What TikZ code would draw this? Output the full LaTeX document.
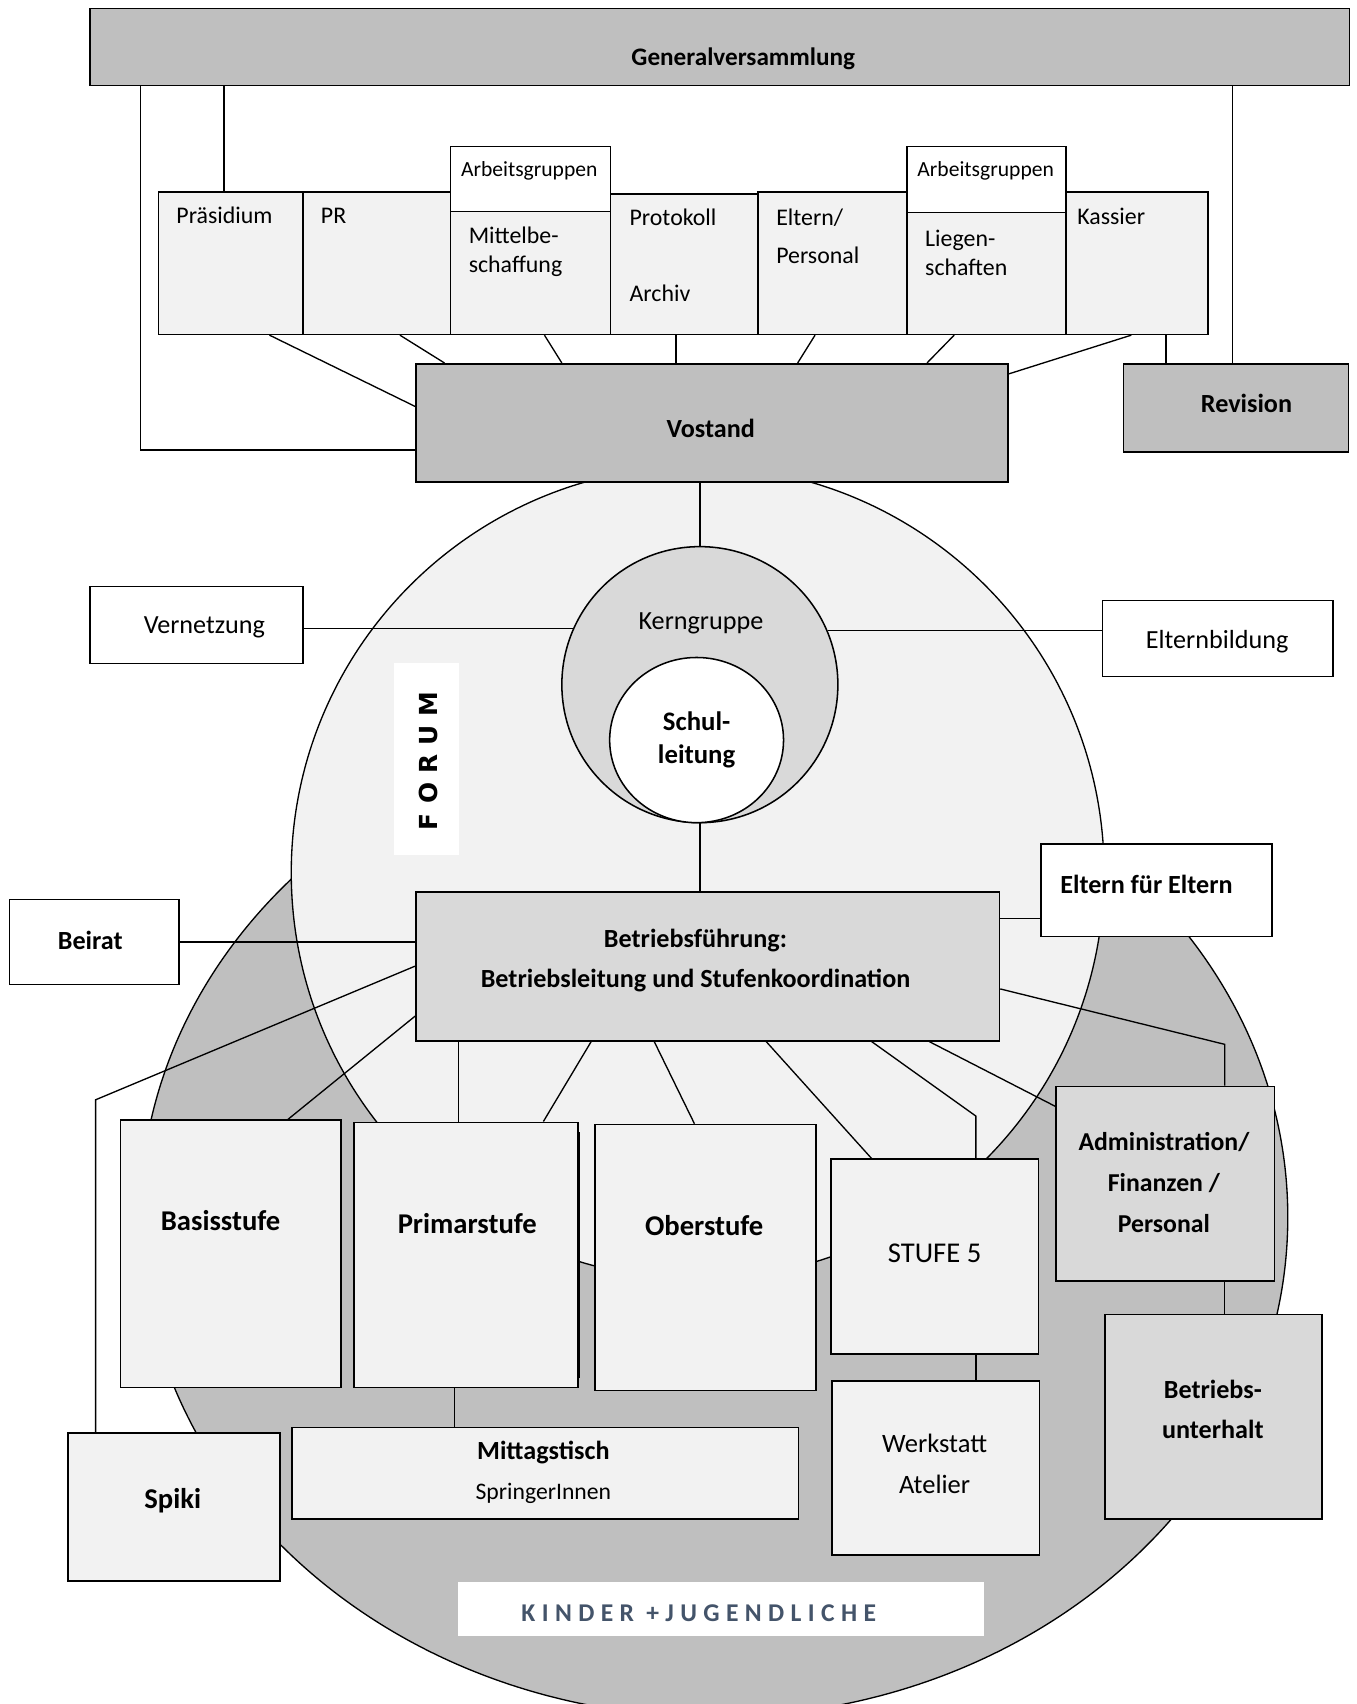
\documentclass[tikz,border=0pt]{standalone}
\usepackage{fontspec}
\setmainfont{Carlito}
\newfontfamily\forumfont[LetterSpace=37]{DejaVu Sans}
\newfontfamily\kjfont[LetterSpace=25]{Carlito}
\usepackage{tikz}
\usetikzlibrary{calc}
\usetikzlibrary{shapes.geometric}
\definecolor{boxdark}{HTML}{BFBFBF}
\definecolor{boxmid}{HTML}{D9D9D9}
\definecolor{boxlight}{HTML}{F2F2F2}
\definecolor{kjblue}{HTML}{44546A}
\tikzset{
    orgbox/.style={draw, line width=0.8pt, inner sep=0pt, anchor=north west},
    plainbox/.style={inner sep=0pt, anchor=north west},
    conn/.style={line width=0.7pt},
    lbl/.style={inner sep=0pt, align=center, font=\fontsize{13.7}{21}\selectfont},
    lblb/.style={inner sep=0pt, align=center, font=\fontsize{13.7}{21}\selectfont\bfseries},
    comlbl/.style={inner sep=0pt, anchor=west, align=left, font=\fontsize{12.5}{15.3}\selectfont},
    stufelbl/.style={inner sep=0pt, align=center, font=\fontsize{15}{18}\selectfont\bfseries}
}

\begin{document}
\begin{tikzpicture}[x=0.02cm, y=-0.02cm]
\def\u{0.02cm}
\useasboundingbox (0,0) rectangle (1248,1568);
% Kinder + Jugendliche, Forum
\filldraw[fill=boxdark, line width=0.7pt] (657,1120) circle [x radius=528*\u, y radius=460*\u];
\filldraw[fill=boxlight, line width=0.7pt] (642,803) circle [radius=374*\u];
\node[circle, draw, line width=0.8pt, fill=boxmid, minimum size=254*\u, inner sep=0pt] (kern) at (644,630) {};
\node[ellipse, draw, line width=0.8pt, fill=white, minimum width=160*\u, minimum height=152*\u, inner sep=0pt,
    font=\fontsize{14}{17}\selectfont\bfseries, align=center] (schul) at (641,681) {Schul-\\leitung};
% Kaesten
\foreach \n/\xa/\ya/\xb/\yb/\c in {gv/82/7/1241/78/boxdark, praes/145/176/278/307/boxlight,
    pr/278/176/414/307/boxlight, agA/414/134/561/194/white, mittel/414/194/561/307/boxlight,
    proto/561/178/697/307/boxlight, eltpers/697/176/834/307/boxlight, agB/834/134/980/195/white,
    liegen/834/195/980/307/boxlight, kassier/980/176/1111/307/boxlight, vost/382/334/927/443/boxdark,
    rev/1033/334/1240/415/boxdark, vernetz/82/539/278/610/white, eltbild/1014/552/1226/622/white,
    betr/382/820/919/957/boxmid, eltfuer/957/776/1170/861/white, beirat/8/827/164/905/white,
    basis/110/1030/313/1276/boxlight, primar/325/1032/531/1276/boxlight, ober/547/1034/750/1279/boxlight,
    stufefive/764/1066/955/1245/boxlight, werk/765/1270/956/1430/boxlight, mittag/268/1313/734/1397/boxlight,
    admin/971/999/1172/1178/boxmid, unterhalt/1016/1209/1216/1397/boxmid, spiki/62/1318/257/1454/boxlight}{
    \node[orgbox, fill=\c, minimum width={(\xb-\xa)*\u}, minimum height={(\yb-\ya)*\u}] (\n) at (\xa,\ya) {};
}
\node[plainbox, fill=white, minimum width=60*\u, minimum height=176*\u] (forum) at (362,610) {};
\node[plainbox, fill=white, minimum width=484*\u, minimum height=50*\u] (kj) at (421,1455) {};
\draw[conn] (533,1042) -- (533,1268);
% Texte
\node[lblb, font=\fontsize{13.2}{16}\selectfont\bfseries] (gv-t) at (684,54) {Generalversammlung};
\node[comlbl] (praes-t) at (162,198) {Präsidium};
\node[comlbl] (pr-t) at (295,199) {PR};
\node[lbl, font=\fontsize{11.3}{14}\selectfont] (agA-t) at (487,157) {Arbeitsgruppen};
\node[lbl, font=\fontsize{11.3}{14}\selectfont] (agB-t) at (907,157) {Arbeitsgruppen};
\node[comlbl] (mittel-t) at (431,231.5) {Mittelbe-\\schaffung};
\node[comlbl] (proto-t) at (579,200) {Protokoll};
\node[comlbl] (archiv-t) at (579,270) {Archiv};
\node[comlbl, font=\fontsize{12.5}{19.8}\selectfont] (eltpers-t) at (714,217.5) {Eltern/\\Personal};
\node[comlbl] (liegen-t) at (851,232.5) {Liegen-\\schaften};
\node[comlbl] (kassier-t) at (991,199) {Kassier};
\node[lblb] (vost-t) at (654,394) {Vostand};
\node[lblb] (rev-t) at (1147,371) {Revision};
\node[lbl] (vernetz-t) at (188,577) {Vernetzung};
\node[lbl] (eltbild-t) at (1120,590) {Elternbildung};
\node[lbl] (kern-t) at (645,574) {Kerngruppe};
\node[rotate=90, inner sep=0pt, font=\forumfont\fontsize{13}{16}\selectfont\bfseries] (forum-t) at (394,700) {FORUM};
\node[lblb] (betr-t) at (640,883.5) {Betriebsführung:\\Betriebsleitung und Stufenkoordination};
\node[lblb] (eltfuer-t) at (1055,814) {Eltern für Eltern};
\node[lblb] (beirat-t) at (83,865) {Beirat};
\node[stufelbl] (basis-t) at (203,1123) {Basisstufe};
\node[stufelbl] (primar-t) at (430,1126) {Primarstufe};
\node[stufelbl] (ober-t) at (648,1128) {Oberstufe};
\node[stufelbl, font=\fontsize{15}{18}\selectfont] (stufefive-t) at (860,1153) {STUFE 5};
\node[lbl, font=\fontsize{13.9}{21.5}\selectfont] (werk-t) at (860,1347) {Werkstatt\\Atelier};
\node[lblb] (mittag-t) at (500,1337) {Mittagstisch};
\node[lbl, font=\fontsize{12.4}{15}\selectfont] (springer-t) at (500,1374) {SpringerInnen};
\node[lblb, font=\fontsize{13.5}{21.5}\selectfont\bfseries] (admin-t) at (1071,1088) {Administration/\\Finanzen /\\Personal};
\node[lblb] (unterhalt-t) at (1116,1296.5) {Betriebs-\\unterhalt};
\node[stufelbl] (spiki-t) at (159,1381) {Spiki};
\node[inner sep=0pt, text=kjblue, font=\kjfont\fontsize{13.4}{16}\selectfont\bfseries] (kj-t) at (643,1484) {KINDER +JUGENDLICHE};
% Verbindungen
\coordinate (spikibend) at (88,1012);
\coordinate (stufebend) at (898,1027);
\coordinate (adminbend) at (1127,961);
\draw[conn] (gv.south -| 129,0) |- (vost.west |- 0,414);
\draw[conn] (gv.south -| 206,0) -- (praes.north -| 206,0);
\draw[conn] (gv.south -| 1134,0) -- (rev.north -| 1134,0);
\draw[conn] (praes.south -| 248,0) -- (vost.west |- 0,374);
\draw[conn] (pr.south -| 368,0) -- (vost.north -| 409,0);
\draw[conn] (mittel.south -| 501,0) -- (vost.north -| 517,0);
\draw[conn] (proto.south -| 622,0) -- (vost.north -| 622,0);
\draw[conn] (eltpers.south -| 750,0) -- (vost.north -| 734,0);
\draw[conn] (liegen.south -| 878,0) -- (vost.north -| 853,0);
\draw[conn] (kassier.south -| 1041,0) -- (vost.east |- 0,344);
\draw[conn] (kassier.south -| 1073,0) -- (rev.north -| 1073,0);
\draw[conn] (vost.south -| kern.north) -- (kern.north);
\draw[conn] (kern.south) -- (betr.north -| kern.south);
\draw[conn] (kern.156.8) -- (kern.156.8 -| vernetz.east);
\draw[conn] (kern.23.2) -- (kern.23.2 -| eltbild.west);
\draw[conn] (beirat.east) -- (beirat.east -| betr.west);
\draw[conn] (betr.east |- 0,845) -- (eltfuer.west |- 0,845);
\draw[conn] (betr.west |- 0,889) -- (spikibend) -- (spiki.north -| spikibend);
\draw[conn] (betr.west |- 0,935) -- (basis.north -| 265,0);
\draw[conn] (betr.south -| 422,0) -- (primar.north -| 422,0);
\draw[conn] (betr.south -| 544,0) -- (primar.north -| 500,0);
\draw[conn] (betr.south -| 602,0) -- (ober.north -| 639,0);
\draw[conn] (betr.south -| 705,0) -- (stufefive.north -| 802,0);
\draw[conn] (betr.south -| 802,0) -- (stufebend) -- (stufefive.north -| stufebend);
\draw[conn] (betr.south -| 855,0) -- (admin.west |- 0,1018);
\draw[conn] (betr.east |- 0,910) -- (adminbend) -- (admin.north -| adminbend);
\draw[conn] (admin.south -| 1127,0) -- (unterhalt.north -| 1127,0);
\draw[conn] (stufefive.south -| 898,0) -- (werk.north -| 898,0);
\draw[conn] (primar.south -| 418,0) -- (mittag.north -| 418,0);
\end{tikzpicture}
\end{document}
